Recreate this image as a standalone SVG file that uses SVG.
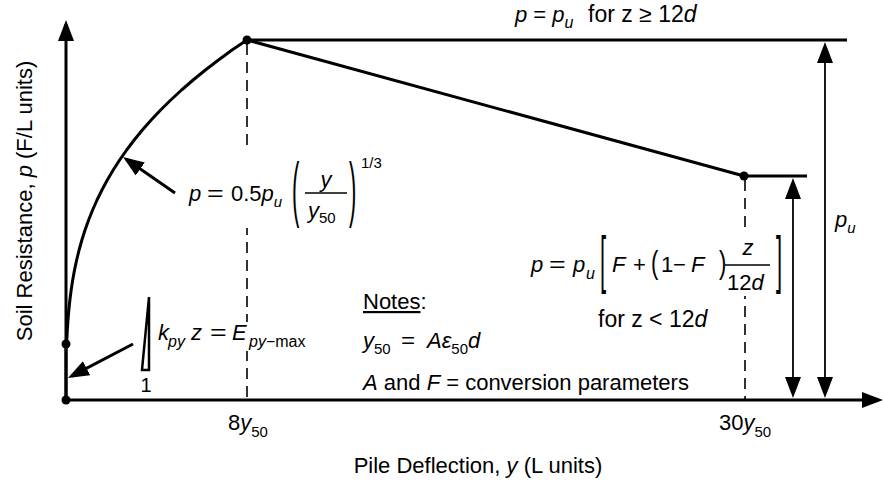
<svg xmlns="http://www.w3.org/2000/svg" width="883" height="481" viewBox="0 0 883 481">
<style>
text{font-family:"Liberation Sans",Arial,sans-serif;font-size:22px;fill:#000}
.i{font-style:italic}
.s{font-size:15px}
.s16{font-size:16px}
.thick{stroke:#000;stroke-width:3;fill:none}
.thin{stroke:#000;stroke-width:1.8;fill:none}
.dash{stroke:#000;stroke-width:1.6;fill:none;stroke-dasharray:11 7}
.dot{fill:#000}
.bg{fill:#fff}
.frac{stroke:#000;stroke-width:1.5}
</style>
<defs>
<marker id="ah" viewBox="0 0 21 16" refX="17" refY="8" markerWidth="21" markerHeight="16" markerUnits="userSpaceOnUse" orient="auto-start-reverse">
<path d="M0,0 L21,8 L0,16 z" fill="#000"/>
</marker>
</defs>
<rect width="883" height="481" fill="#fff"/>

<g id="axes">
<line class="thick" x1="66" y1="400" x2="66" y2="24" marker-end="url(#ah)"/>
<line class="thick" x1="66" y1="400" x2="879" y2="400" marker-end="url(#ah)"/>
</g>

<g id="curve">
<polyline class="thick" stroke-linejoin="round" points="66,400 66,344 66.84,340 67.33,330 67.99,320 68.83,310 69.88,300 71.16,290 72.7,280 74.52,270 76.65,260 79.09,250 81.89,240 85.06,230 88.63,220 92.61,210 97.03,200 101.93,190 107.31,180 113.2,170 119.63,160 126.62,150 134.19,140 142.36,130 151.17,120 160.62,110 170.75,100 181.57,90 193.12,80 205.41,70 218.48,60 225.3,55 232,50 247,40"/>
<line class="thick" x1="247" y1="40" x2="847" y2="40"/>
<line class="thick" x1="247" y1="40" x2="744" y2="176"/>
<line class="thick" x1="744" y1="176" x2="807" y2="176"/>
<circle class="dot" cx="66" cy="400" r="4.5"/>
<circle class="dot" cx="66" cy="344" r="4.5"/>
<circle class="dot" cx="247" cy="40" r="4.5"/>
<circle class="dot" cx="744" cy="176" r="4.5"/>
</g>

<g id="connectors">
<line class="dash" x1="247" y1="44" x2="247" y2="400"/>
<line class="dash" x1="745" y1="180" x2="745" y2="400"/>
<line class="thin" x1="793" y1="182" x2="793" y2="394" marker-start="url(#ah)" marker-end="url(#ah)"/>
<line class="thin" x1="825" y1="46" x2="825" y2="394" marker-start="url(#ah)" marker-end="url(#ah)"/>
<line class="thick" x1="175" y1="193" x2="126.3" y2="159.3" marker-end="url(#ah)"/>
<line class="thick" x1="133" y1="344" x2="71.5" y2="376.1" marker-end="url(#ah)"/>
</g>

<g id="slope-triangle">
<polygon points="142,370 149,370 149,297" fill="#fff" stroke="#000" stroke-width="2.5"/>
<text x="146" y="392" text-anchor="middle" style="font-size:20px">1</text>
</g>

<g id="axis-labels">
<text transform="translate(32,201) rotate(-90)" text-anchor="middle">Soil Resistance, <tspan class="i">p</tspan> (F/L units)</text>
<text x="478" y="473" text-anchor="middle">Pile Deflection, <tspan class="i">y</tspan> (L units)</text>
<text x="228" y="430">8<tspan class="i">y</tspan><tspan class="s" dy="7">50</tspan></text>
<text x="719" y="430">30<tspan class="i">y</tspan><tspan class="s" dy="7">50</tspan></text>
</g>

<g id="label-top">
<text x="515" y="22"><tspan class="i">p</tspan> = <tspan class="i">p</tspan><tspan class="i s16" dy="6">u</tspan></text>
<text x="588" y="22" style="font-size:23px">for z ≥ 12<tspan class="i">d</tspan></text>
</g>

<g id="label-pu">
<text x="835" y="227"><tspan class="i">p</tspan><tspan class="i s" dy="6">u</tspan></text>
</g>

<g id="label-cuberoot">
<rect class="bg" x="240" y="151" width="14" height="77"/>
<text x="189" y="201" class="i">p</text>
<text transform="translate(207,201) scale(1.3,1)">=</text>
<text x="231" y="201">0.5<tspan class="i">p</tspan><tspan class="i s" dy="6">u</tspan></text>
<text transform="translate(292,212.8) scale(1,3.3)">(</text>
<text x="326" y="187" class="i" text-anchor="middle">y</text>
<line class="frac" x1="305" y1="193" x2="347" y2="193"/>
<text x="308" y="218"><tspan class="i">y</tspan><tspan class="s" dy="5">50</tspan></text>
<text transform="translate(349,212.8) scale(1,3.3)">)</text>
<text x="361" y="168" class="s">1/3</text>
</g>

<g id="label-kpy">
<rect class="bg" x="240" y="322" width="14" height="29"/>
<text x="158" y="340" class="i">k</text>
<text x="168" y="347" class="i s16">py</text>
<text x="191" y="340" class="i">z</text>
<text transform="translate(210,340) scale(1.3,1)">=</text>
<text x="232" y="340" class="i">E</text>
<text x="249" y="347" class="s16"><tspan class="i">py</tspan>−max</text>
</g>

<g id="label-shallow">
<rect class="bg" x="738" y="229" width="14" height="67"/>
<text x="531" y="272" class="i">p</text>
<text transform="translate(549,272) scale(1.3,1)">=</text>
<text x="573" y="272" class="i">p</text>
<text x="586" y="279" class="i s16">u</text>
<text transform="translate(600,281.4) scale(1,2.9)">[</text>
<text x="612" y="272" class="i">F</text>
<text x="633" y="272">+</text>
<text transform="translate(651,273.2) scale(1,1.45)">(</text>
<text x="661" y="272">1</text>
<text x="673" y="272">−</text>
<text x="691" y="272" class="i">F</text>
<text transform="translate(719,273.2) scale(1,1.45)">)</text>
<text x="748" y="255" class="i" text-anchor="middle">z</text>
<line class="frac" x1="725" y1="265" x2="770" y2="265"/>
<text x="727" y="290">12<tspan class="i">d</tspan></text>
<text transform="translate(776,281.4) scale(1,2.9)">]</text>
<text x="598" y="327" style="font-size:23px">for z &lt; 12<tspan class="i">d</tspan></text>
</g>

<g id="notes">
<text x="363" y="309"><tspan style="text-decoration:underline">Notes</tspan>:</text>
<text x="363" y="348"><tspan class="i">y</tspan><tspan class="s" dy="6">50</tspan></text>
<text transform="translate(401,348) scale(1.1,1)">=</text>
<text x="427" y="348"><tspan class="i">Aε</tspan><tspan class="s" dy="6">50</tspan><tspan class="i" dy="-6">d</tspan></text>
<text x="363" y="390"><tspan class="i">A</tspan> and <tspan class="i">F</tspan> = conversion parameters</text>
</g>
</svg>
